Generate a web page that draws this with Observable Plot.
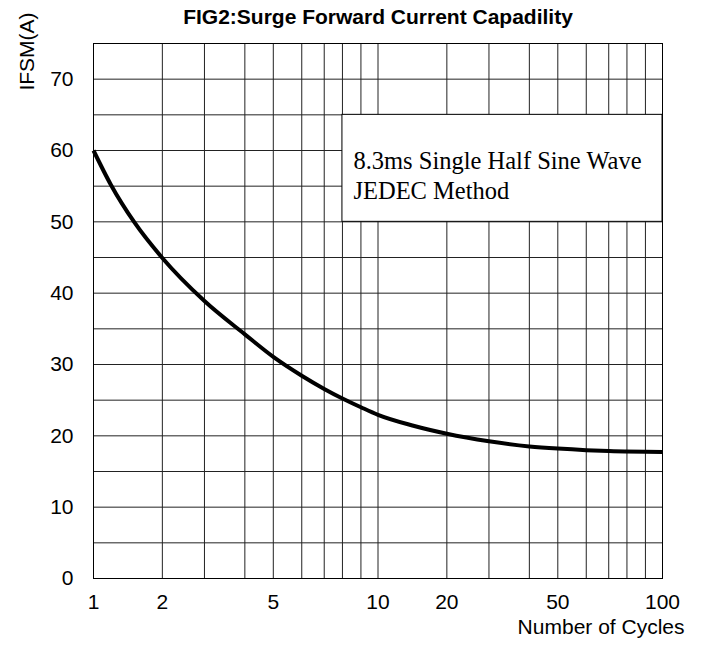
<!DOCTYPE html>
<html>
<head>
<meta charset="utf-8">
<script src="https://cdn.jsdelivr.net/npm/d3@7"></script>
<script src="https://cdn.jsdelivr.net/npm/@observablehq/plot@0.6"></script>
<style>
  html, body { margin: 0; padding: 0; background: #fff; }
  #chart svg { display: block; }
</style>
</head>
<body>
<div id="chart"></div>
<script>
// ---- data ----
const titleText = "FIG2:Surge Forward Current Capadility";
const yLabel = "IFSM(A)";
const xLabel = "Number of Cycles";
const noteLines = ["8.3ms Single Half Sine Wave", "JEDEC Method"];

// Surge curve: number of cycles vs peak forward surge current (A)
const cycles = [1, 1.25, 1.6, 2, 3, 4, 5, 6, 7, 8, 9, 10, 15, 20, 30, 40, 50, 60, 70, 100];
const ifsm   = [60, 55.24, 49.84, 44.93, 38.9, 34.23, 31.07, 28.43, 26.58, 25.24, 24.01, 22.94, 21.45, 20.3, 19.25, 18.52, 18.21, 17.99, 17.88, 17.75];

// Axis ticks and grid
const xTicks = [1, 2, 5, 10, 20, 50, 100];
const yTicks = [0, 10, 20, 30, 40, 50, 60, 70];
const xGrid = [1, 2, 3, 4, 5, 6, 7, 8, 9, 10, 20, 30, 40, 50, 60, 70, 80, 90, 100];
const yGrid = [0, 5, 10, 15, 20, 25, 30, 35, 40, 45, 50, 55, 60, 65, 70, 75];
const yDomain = [0, 75];

// The reference's cycle axis is a hand-ruled (not exactly logarithmic) scale:
// relative position of 1..10 inside each decade
const decadeFrac = [0, 0.242, 0.39, 0.532, 0.632, 0.732, 0.811, 0.875, 0.94, 1];

// Note box extent in data units
const noteBox = [{x1: 8, x2: 100, y1: 50, y2: 65}];

// ---- layout ----
const width = 706, height = 645;
const marginLeft = 93, marginRight = 44, marginTop = 43, marginBottom = 67;
const plotW = width - marginLeft - marginRight;

function axisFrac(v) {
  const d = Math.floor(Math.log10(v) + 1e-9);
  if (d >= 2) return 1;
  const m = Math.round(v / Math.pow(10, d));
  return (d + decadeFrac[m - 1]) / 2;
}
const xRange = xGrid.map(v => marginLeft + axisFrac(v) * plotW);

const curve = cycles.map((c, i) => ({c, a: ifsm[i]}));

const sans = "Liberation Sans, Arial, Helvetica, sans-serif";
const serif = "Liberation Serif, Times New Roman, serif";

const chart = Plot.plot({
  width, height, marginLeft, marginRight, marginTop, marginBottom,
  style: {fontFamily: sans, fontSize: "21px", color: "#000", background: "#fff"},
  x: {type: "linear", domain: xGrid, range: xRange},
  y: {domain: yDomain},
  marks: [
    Plot.gridX(xGrid, {stroke: "#222", strokeOpacity: 1, strokeWidth: 1}),
    Plot.gridY(yGrid, {stroke: "#222", strokeOpacity: 1, strokeWidth: 1}),
    Plot.rect(noteBox, {x1: "x1", x2: "x2", y1: "y1", y2: "y2", fill: "#fff", stroke: "#000", strokeWidth: 1}),
    Plot.frame({stroke: "#000", strokeWidth: 1}),
    Plot.line(curve, {x: "c", y: "a", curve: "monotone-x", stroke: "#000", strokeWidth: 4, strokeLinecap: "butt"}),
    Plot.axisX({ticks: xTicks, tickSize: 0, tickPadding: 16, label: null, tickFormat: d => String(d), fontSize: 21}),
    Plot.axisY({ticks: yTicks, tickSize: 0, tickPadding: 20, label: null, tickFormat: d => String(d), fontSize: 21}),
    Plot.text([noteLines.join("\n")], {
      x: noteBox[0].x1, y: noteBox[0].y2, textAnchor: "start", lineAnchor: "top",
      dx: 11, dy: 33, lineHeight: 1.224, fontSize: 24.5, fontFamily: serif, fill: "#000"
    }),
    Plot.text([titleText], {frameAnchor: "top", lineAnchor: "bottom", dy: -20, fontSize: 21, fontWeight: "bold", fill: "#000"}),
    Plot.text([yLabel], {frameAnchor: "top-left", rotate: -90, textAnchor: "middle", lineAnchor: "bottom", dx: -60, dy: 8, fontSize: 21, fill: "#000"}),
    Plot.text([xLabel], {frameAnchor: "bottom-right", textAnchor: "end", lineAnchor: "bottom", dx: 22, dy: 55, fontSize: 21, fill: "#000"})
  ]
});
document.getElementById("chart").appendChild(chart);
</script>
</body>
</html>
